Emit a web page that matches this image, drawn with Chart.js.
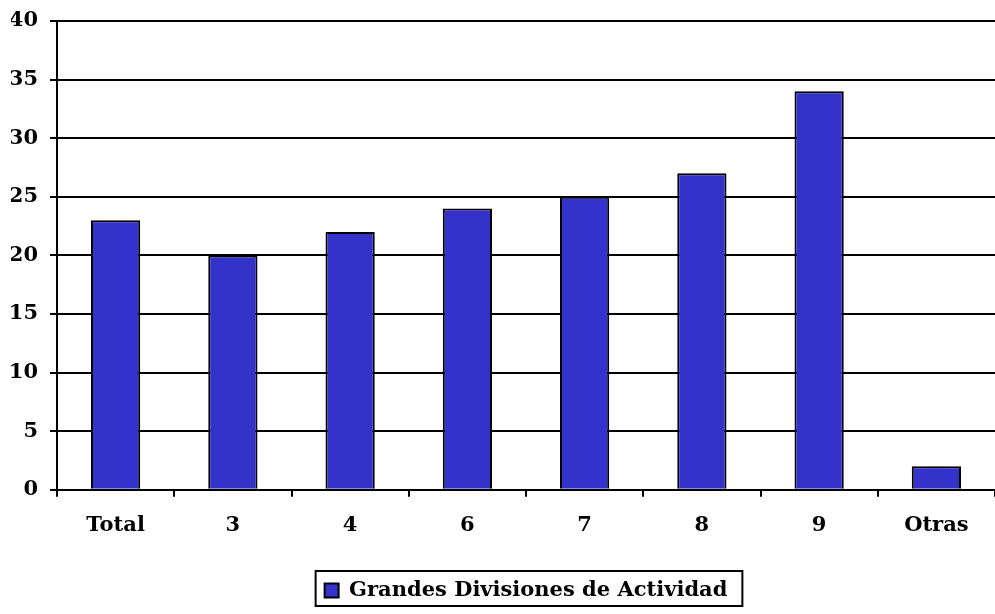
<!DOCTYPE html>
<html>
<head>
<meta charset="utf-8">
<script src="https://cdn.jsdelivr.net/npm/chart.js@4/dist/chart.umd.min.js"></script>
<style>
html,body{margin:0;padding:0;background:#fff;}
#wrap{width:995px;height:614px;position:relative;}
</style>
</head>
<body>
<div id="wrap"><canvas id="c" width="995" height="614"></canvas></div>
<script>
const categories = ['Total', '3', '4', '6', '7', '8', '9', 'Otras'];
const values = [23, 20, 22, 24, 25, 27, 34, 2];
const seriesName = 'Grandes Divisiones de Actividad';
const yMin = 0, yMax = 40, yStep = 5;

const FONT = '"DejaVu Serif", "Liberation Serif", serif';

const legendBox = {
  id: 'legendBox',
  afterLayout(chart) {
    const lg = chart.legend;
    if (!lg) return;
    lg.left = chart.chartArea.left;
    lg.right = chart.chartArea.right;
    lg.width = lg.right - lg.left;
  },
  afterDraw(chart) {
    const lg = chart.legend;
    if (!lg || !lg.legendHitBoxes || !lg.legendHitBoxes.length) return;
    const hb = lg.legendHitBoxes[0];
    const ctx = chart.ctx;
    ctx.save();
    ctx.strokeStyle = '#000';
    ctx.lineWidth = 2;
    ctx.strokeRect(hb.left - 9, hb.top - 9, hb.width + 24, hb.height + 14);
    ctx.restore();
  }
};

new Chart(document.getElementById('c'), {
  type: 'bar',
  data: {
    labels: categories,
    datasets: [{
      label: seriesName,
      data: values,
      backgroundColor: '#3333CC',
      borderColor: '#000',
      borderWidth: 2,
      barPercentage: 0.84,
      categoryPercentage: 0.5
    }]
  },
  options: {
    responsive: false,
    animation: false,
    layout: { padding: { top: 21, right: 0, left: 11, bottom: 3 } },
    plugins: {
      tooltip: { enabled: false },
      legend: {
        position: 'bottom',
        labels: {
          color: '#000',
          font: { family: FONT, size: 21, weight: 'bold' },
          boxWidth: 14,
          boxHeight: 14,
          padding: 26
        }
      }
    },
    scales: {
      x: {
        grid: { display: true, drawOnChartArea: false, offset: true, color: '#000', lineWidth: 2, tickLength: 7 },
        border: { color: '#000', width: 2 },
        ticks: { color: '#000', font: { family: FONT, size: 21, weight: 'bold' }, padding: 16, maxRotation: 0 }
      },
      y: {
        min: yMin, max: yMax,
        afterFit(scale) { scale.width = 46; scale.paddingTop = 0; },
        grid: { color: '#000', lineWidth: 2, tickLength: 7 },
        border: { color: '#000', width: 2 },
        ticks: { stepSize: yStep, color: '#000', font: { family: FONT, size: 21, weight: 'bold' }, padding: 12 }
      }
    }
  },
  plugins: [legendBox]
});
</script>
</body>
</html>
